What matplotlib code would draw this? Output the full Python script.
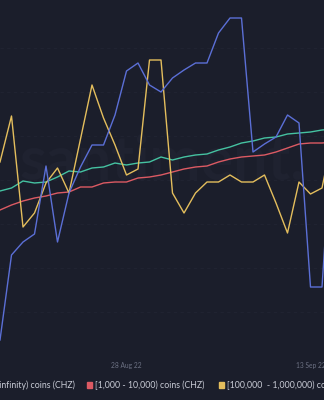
import datetime as dt

import matplotlib
matplotlib.use("Agg")
import matplotlib.pyplot as plt
import matplotlib.dates as mdates
import numpy as np

BG = "#1b1e2b"
BLUE = "#5b6fd6"
YELLOW = "#e4be5d"
TEAL = "#45c2a1"
RED = "#dc5a63"

# daily points, 17 Aug 22 .. 15 Sep 22 (holder balance, arbitrary units)
start = dt.date(2022, 8, 17)
days = [start + dt.timedelta(days=i) for i in range(30)]

blue = [12, 97, 110, 118, 186, 110, 159, 185, 207, 207, 237, 281, 289, 267, 260, 274,
        282, 289, 289, 319, 334, 334, 200, 208, 215, 237, 229, 65, 65, 240]
yellow = [190, 236, 125, 139, 169, 184, 159, 213, 267, 234, 207, 177, 183, 292, 292, 159,
          139, 159, 170, 170, 177, 170, 170, 177, 149, 119, 170, 158, 164, 220]
teal = [161, 164, 171, 169, 170, 175, 181, 180, 184, 185, 189, 187, 189, 190, 195, 192,
        195, 197, 198, 202, 205, 209, 211, 214, 215, 218, 219, 220, 222, 223]
red = [142, 147, 151, 154, 156, 159, 160, 165, 165, 169, 170, 170, 174, 175, 177, 180,
       183, 185, 186, 190, 193, 195, 196, 197, 200, 204, 208, 209, 209, 210]

legend_left = "[1,000,000 - infinity) coins (CHZ)"
legend_mid = "[1,000 - 10,000) coins (CHZ)"
legend_right = "[100,000  - 1,000,000) coins (CHZ)"
tick_days = [dt.date(2022, 8, 28), dt.date(2022, 9, 13)]

plt.rcParams["font.family"] = ["Lato", "DejaVu Sans"]

fig = plt.figure(figsize=(3.24, 4.0), dpi=100, facecolor=BG)
ax = fig.add_axes([0, 48 / 400, 1, 352 / 400], facecolor=BG)

ax.text(0.5, 0.54, "santiment.", transform=ax.transAxes, ha="center", va="center",
        fontsize=44, color="#1f2230", fontweight="bold", zorder=0)

ax.plot(days, teal, color=TEAL, lw=1.0, zorder=3)
ax.plot(days, red, color=RED, lw=1.0, zorder=3)
ax.plot(days, yellow, color=YELLOW, lw=1.0, zorder=4)
ax.plot(days, blue, color=BLUE, lw=1.0, zorder=5)

x0 = mdates.date2num(days[0])
ax.set_xlim(x0, x0 + 324 / 11.5)
ax.set_ylim(0, 352)
ax.set_yticks([40, 84, 128, 172, 216, 260, 304])
ax.yaxis.grid(True, color="#222533", ls=(0, (4, 4)), lw=0.6)
ax.set_xticks([mdates.date2num(d) for d in tick_days])
ax.xaxis.set_major_formatter(mdates.DateFormatter("%d %b %y"))
ax.tick_params(axis="x", length=0, pad=7, labelsize=4.8, labelcolor="#6c7183")
ax.tick_params(axis="y", length=0, labelleft=False)
for s in ax.spines.values():
    s.set_visible(False)

# legend (cropped at both sides of the image)
ly = 1 - 385 / 400
fig.text(75 / 324, ly, legend_left, ha="right", va="center", fontsize=6.3, color="#c9ccd6")
fig.patches.append(plt.Rectangle((87 / 324, ly - 3 / 400), 5 / 324, 6 / 400,
                                 transform=fig.transFigure, color=RED, figure=fig))
fig.text(95 / 324, ly, legend_mid, ha="left", va="center", fontsize=6.3, color="#c9ccd6")
fig.patches.append(plt.Rectangle((219 / 324, ly - 3 / 400), 5 / 324, 6 / 400,
                                 transform=fig.transFigure, color=YELLOW, figure=fig))
fig.text(227 / 324, ly, legend_right, ha="left", va="center", fontsize=6.3, color="#c9ccd6")

fig.savefig("out.png", dpi=100, facecolor=BG)
